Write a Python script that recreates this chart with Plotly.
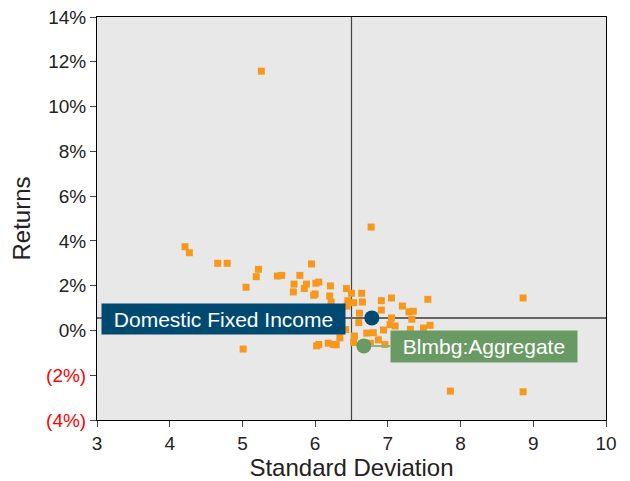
import plotly.graph_objects as go

# peer universe (std dev, return %)
peer_sd = [5.26, 6.77, 4.21, 4.27, 4.66, 4.79, 5.95, 5.22, 5.19, 5.48,
           5.54, 5.79, 5.05, 5.71, 5.88, 5.85, 6.01, 6.05, 6.00, 5.98,
           5.70, 6.21, 6.20, 6.22, 6.43, 6.50, 6.45, 6.53, 6.44, 6.61,
           6.64, 6.65, 6.91, 7.05, 7.55, 7.20, 7.29, 7.35, 6.91, 7.33,
           7.05, 6.60, 7.03, 7.10, 7.58, 7.49, 6.94, 6.80, 6.71, 6.54,
           6.34, 6.53, 6.87, 6.76, 6.96, 6.25, 6.18, 6.02, 6.05, 6.42,
           7.31, 5.01, 7.86, 8.86, 8.86, 6.29]
peer_ret = [11.58, 4.62, 3.74, 3.47, 3.00, 3.00, 2.97, 2.73, 2.40, 2.43,
            2.46, 2.46, 1.93, 2.07, 2.07, 1.87, 2.11, 2.16, 1.63, 1.57,
            1.72, 1.99, 1.54, 1.27, 1.87, 1.66, 1.33, 1.24, 1.09, 0.77,
            1.66, 1.27, 1.33, 1.45, 1.39, 1.09, 0.83, 0.86, 0.91, 0.50,
            0.56, 0.35, 0.26, 0.20, 0.23, 0.11, 0.02, -0.10, -0.12, -0.25,
            -0.33, -0.54, -0.42, -0.57, -0.63, -0.63, -0.57, -0.69, -0.63, 0.04,
            0.05, -0.83, -2.71, -2.74, 1.45, -0.64]

fund_name = "Domestic Fixed Income"
fund_sd, fund_ret = 6.78, 0.56
bench_name = "Blmbg:Aggregate"
bench_sd, bench_ret = 6.67, -0.69

median_sd = 6.5
median_ret = 0.56

y_ticks = [-4, -2, 0, 2, 4, 6, 8, 10, 12, 14]
y_labels = ["<span style='color:#FF0000'>(4%)</span>",
            "<span style='color:#FF0000'>(2%)</span>",
            "0%", "2%", "4%", "6%", "8%", "10%", "12%", "14%"]

FONT = "Liberation Sans, Arial"

fig = go.Figure()

fig.add_trace(go.Scatter(x=peer_sd, y=peer_ret, mode="markers",
                         marker=dict(symbol="square", size=7, color="#F7981D"),
                         showlegend=False, hoverinfo="skip"))

# quadrant lines
fig.add_vline(x=median_sd, line=dict(color="#444444", width=1.2), layer="below")
fig.add_hline(y=median_ret, line=dict(color="#666666", width=2), layer="below")

fig.add_trace(go.Scatter(x=[bench_sd], y=[bench_ret], mode="markers",
                         marker=dict(size=15, color="#6A9A64"),
                         showlegend=False, hoverinfo="skip"))
fig.add_trace(go.Scatter(x=[fund_sd], y=[fund_ret], mode="markers",
                         marker=dict(size=15, color="#004A72"),
                         showlegend=False, hoverinfo="skip"))

fig.add_annotation(x=4.74, y=0.51, text=fund_name, showarrow=False,
                   font=dict(family=FONT, size=21, color="white"),
                   bgcolor="#004A72", borderpad=3, width=237, height=24)
fig.add_annotation(x=bench_sd, y=bench_ret, ax=8.32, ay=-0.71, axref="x", ayref="y",
                   text=bench_name, showarrow=True, arrowhead=0, arrowwidth=2,
                   arrowcolor="#8DB088", standoff=7,
                   font=dict(family=FONT, size=21, color="white"),
                   bgcolor="#6A9A64", borderpad=3, width=180, height=25)

fig.update_xaxes(range=[3, 10], dtick=1, ticks="outside", ticklen=6,
                 showline=True, linecolor="black", linewidth=1, mirror=True,
                 showgrid=False, zeroline=False, automargin=False,
                 tickfont=dict(size=19, color="#222222"),
                 title=dict(text="Standard Deviation", font=dict(size=24, color="#222222"),
                            standoff=4))
fig.update_yaxes(range=[-4, 14], tickvals=y_ticks, ticktext=y_labels,
                 ticks="outside", ticklen=6,
                 showline=True, linecolor="black", linewidth=1, mirror=True,
                 showgrid=False, zeroline=False, automargin=False,
                 tickfont=dict(size=19, color="#222222"),
                 title=dict(text="Returns", font=dict(size=24, color="#222222"),
                            standoff=8))

fig.update_layout(width=630, height=481,
                  margin=dict(l=97, r=24, t=17, b=61),
                  plot_bgcolor="#E8E8E8", paper_bgcolor="white",
                  font=dict(family=FONT))

# drop the browser's default 8px body margin
fig.write_html("out.html", config={"displayModeBar": False},
               post_script="document.body.style.margin='0';")
